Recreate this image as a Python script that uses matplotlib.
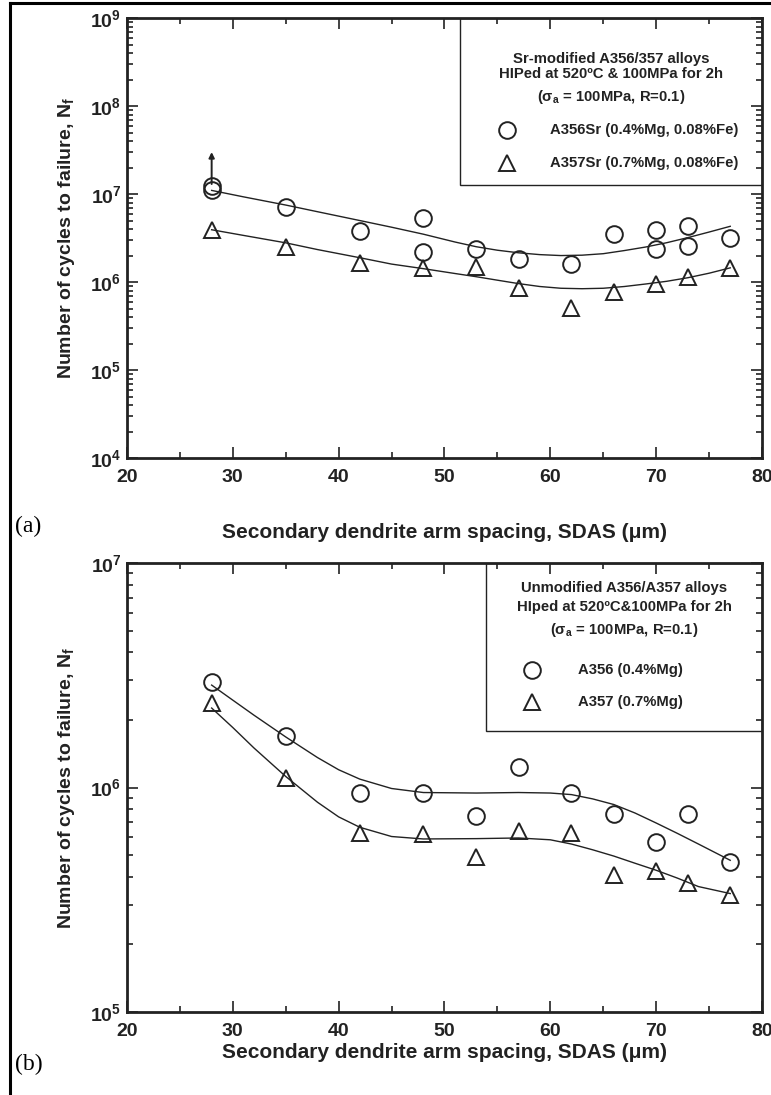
import matplotlib
matplotlib.use("Agg")
import matplotlib.pyplot as plt
from matplotlib.patches import Rectangle
from matplotlib.ticker import FixedLocator, LogLocator, NullFormatter, MultipleLocator
import numpy as np

plt.rcParams["font.family"] = ["Liberation Sans", "DejaVu Sans"]
plt.rcParams["mathtext.fontset"] = "custom"
plt.rcParams["mathtext.rm"] = "Liberation Sans:bold"
plt.rcParams["mathtext.bf"] = "Liberation Sans:bold"
plt.rcParams["mathtext.it"] = "Liberation Sans:bold"

# ---- panel (a): Sr-modified alloys ----
sdas_a356 = [28, 28, 35, 42, 48, 48, 53, 57, 62, 66, 70, 70, 73, 73, 77]
nf_a356 = [1.12e7, 1.22e7, 7.2e6, 3.8e6, 5.3e6, 2.2e6, 2.4e6, 1.83e6, 1.61e6,
           3.5e6, 3.9e6, 2.36e6, 4.35e6, 2.54e6, 3.13e6]
sdas_a357 = [28, 35, 42, 48, 53, 57, 62, 66, 70, 73, 77]
nf_a357 = [3.9e6, 2.47e6, 1.63e6, 1.45e6, 1.5e6, 8.5e5, 5.1e5, 7.7e5, 9.4e5, 1.13e6, 1.44e6]

fit_x_a = [28, 31, 35, 38, 42, 45, 48, 51, 53, 55, 57, 59, 61, 63, 65, 67, 69, 71, 73, 75, 77]
fit_a356 = [1.10e7, 9.3e6, 7.5e6, 6.3e6, 5.0e6, 4.2e6, 3.5e6, 2.85e6, 2.52e6, 2.3e6,
            2.15e6, 2.05e6, 2.0e6, 2.02e6, 2.1e6, 2.28e6, 2.5e6, 2.8e6, 3.2e6, 3.7e6, 4.3e6]
fit_a357 = [3.93e6, 3.39e6, 2.79e6, 2.34e6, 1.89e6, 1.6e6, 1.42e6, 1.25e6, 1.15e6, 1.05e6,
            9.6e5, 8.9e5, 8.5e5, 8.4e5, 8.5e5, 8.9e5, 9.5e5, 1.02e6, 1.12e6, 1.26e6, 1.45e6]

runout_x = 28
runout_from = 1.3e7
runout_to = 3.0e7

# ---- panel (b): unmodified alloys ----
sdas_b = [28, 35, 42, 48, 53, 57, 62, 66, 70, 73, 77]
nf_b356 = [2.95e6, 1.69e6, 9.5e5, 9.5e5, 7.5e5, 1.24e6, 9.5e5, 7.6e5, 5.7e5, 7.6e5, 4.64e5]
nf_b357 = [2.39e6, 1.1e6, 6.27e5, 6.2e5, 4.9e5, 6.4e5, 6.3e5, 4.07e5, 4.26e5, 3.74e5, 3.31e5]

fit_x_b = [28, 30, 32, 35, 38, 40, 42, 45, 48, 53, 57, 60, 62, 64, 66, 68, 70, 72, 74, 77]
fit_b356 = [2.86e6, 2.45e6, 2.1e6, 1.68e6, 1.36e6, 1.2e6, 1.09e6, 9.9e5, 9.5e5, 9.45e5,
            9.5e5, 9.45e5, 9.3e5, 8.9e5, 8.4e5, 7.7e5, 6.95e5, 6.25e5, 5.6e5, 4.74e5]
fit_b357 = [2.26e6, 1.85e6, 1.5e6, 1.12e6, 8.6e5, 7.4e5, 6.65e5, 6.05e5, 5.9e5, 5.92e5,
            5.96e5, 5.85e5, 5.6e5, 5.28e5, 4.95e5, 4.6e5, 4.28e5, 3.95e5, 3.62e5, 3.37e5]

xlabel = "Secondary dendrite arm spacing, SDAS (μm)"
ylabel = r"Number of cycles to failure, N$_\mathbf{f}$"
ink = "#222222"

fig = plt.figure(figsize=(7.71, 10.95), dpi=100)

# border of the figure (left and top lines visible in the scan)
fig.add_artist(plt.Line2D([0.013, 0.013], [0.0, 0.997], color="black", lw=2.2))
fig.add_artist(plt.Line2D([0.013, 1.0], [0.997, 0.997], color="black", lw=2.2))


def style_axes(ax, lo, hi, xlab_y):
    ax.set_yscale("log")
    ax.set_xlim(20, 80)
    ax.set_ylim(10 ** lo, 10 ** hi)
    ax.xaxis.set_minor_locator(MultipleLocator(5))
    decades = list(range(lo, hi + 1))
    ax.yaxis.set_major_locator(FixedLocator([10.0 ** d for d in decades]))
    ax.yaxis.set_minor_locator(LogLocator(base=10, subs=np.arange(2, 10)))
    ax.yaxis.set_minor_formatter(NullFormatter())
    ax.set_yticklabels([r"$\mathbf{10^{%d}}$" % d for d in decades])
    ax.set_xticks(range(20, 81, 10))
    ax.set_xticklabels([str(v) for v in range(20, 81, 10)], fontweight="bold")
    ax.tick_params(which="both", direction="in", top=True, right=True,
                   width=1.2, colors=ink, labelcolor=ink)
    ax.tick_params(which="major", length=8, labelsize=14, pad=4)
    ax.tick_params(axis="x", which="major", pad=8)
    ax.tick_params(which="minor", length=4.5)
    for s in ax.spines.values():
        s.set_linewidth(2.0)
        s.set_color(ink)
    ax.set_xlabel(xlabel, fontsize=15, fontweight="bold", color=ink)
    ax.xaxis.set_label_coords(0.5, xlab_y)
    ax.set_ylabel(ylabel, fontsize=14, fontweight="bold", color=ink)
    ax.yaxis.set_label_coords(-0.078, 0.5)


def legend_box(ax, x0, y0, cx, title_lines, title_ys, mx, tx, rows, row_ys):
    ax.add_patch(Rectangle((x0, y0), 1 - x0, 1 - y0, transform=ax.transAxes,
                           fill=False, edgecolor=ink, lw=1.0, zorder=4))
    for line, y in zip(title_lines, title_ys):
        ax.text(cx, y, line, transform=ax.transAxes, ha="center", va="center",
                fontsize=10.7, fontweight="bold", color=ink)
    for (marker, label), y in zip(rows, row_ys):
        ax.plot([mx], [y], marker=marker, ms=12, mfc="none", mec=ink,
                mew=1.4, transform=ax.transAxes, clip_on=False)
        ax.text(tx, y, label, transform=ax.transAxes, ha="left", va="center",
                fontsize=10.7, fontweight="bold", color=ink)


# ---- panel (a) ----
ax1 = fig.add_axes([0.1647, 0.5817, 0.8236, 0.4018])
style_axes(ax1, 4, 9, -0.148)
ax1.plot(fit_x_a, fit_a356, color=ink, lw=1.0)
ax1.plot(fit_x_a, fit_a357, color=ink, lw=1.0)
ax1.plot(sdas_a356, nf_a356, "o", ms=12, mfc="none", mec=ink, mew=1.4)
ax1.plot(sdas_a357, nf_a357, "^", ms=11, mfc="none", mec=ink, mew=1.4)
ax1.annotate("", xy=(runout_x, runout_to), xytext=(runout_x, runout_from),
             arrowprops=dict(arrowstyle="-|>", color=ink, lw=1.4,
                             mutation_scale=8, shrinkA=0, shrinkB=0))
legend_box(ax1, 0.524, 0.62, 0.762,
           ["Sr-modified A356/357 alloys",
            "HIPed at 520ºC & 100MPa for 2h",
            r"(σ$_\mathbf{a}$ = 100MPa, R=0.1)"],
           [0.906, 0.873, 0.82],
           0.598, 0.666,
           [("o", "A356Sr (0.4%Mg, 0.08%Fe)"), ("^", "A357Sr (0.7%Mg, 0.08%Fe)")],
           [0.745, 0.67])
fig.text(0.02, 0.5195, "(a)", fontsize=17, family="Liberation Serif", ha="left", va="center")

# ---- panel (b) ----
ax2 = fig.add_axes([0.1647, 0.0758, 0.8236, 0.41])
style_axes(ax2, 5, 7, -0.069)
ax2.plot(fit_x_b, fit_b356, color=ink, lw=1.0)
ax2.plot(fit_x_b, fit_b357, color=ink, lw=1.0)
ax2.plot(sdas_b, nf_b356, "o", ms=12, mfc="none", mec=ink, mew=1.4)
ax2.plot(sdas_b, nf_b357, "^", ms=11, mfc="none", mec=ink, mew=1.4)
legend_box(ax2, 0.565, 0.626, 0.783,
           ["Unmodified A356/A357 alloys",
            "HIped at 520ºC&100MPa for 2h",
            r"(σ$_\mathbf{a}$ = 100MPa, R=0.1)"],
           [0.944, 0.902, 0.851],
           0.638, 0.71,
           [("o", "A356 (0.4%Mg)"), ("^", "A357 (0.7%Mg)")],
           [0.762, 0.69])
fig.text(0.02, 0.028, "(b)", fontsize=17, family="Liberation Serif", ha="left", va="center")

fig.savefig("out.png", dpi=100)
